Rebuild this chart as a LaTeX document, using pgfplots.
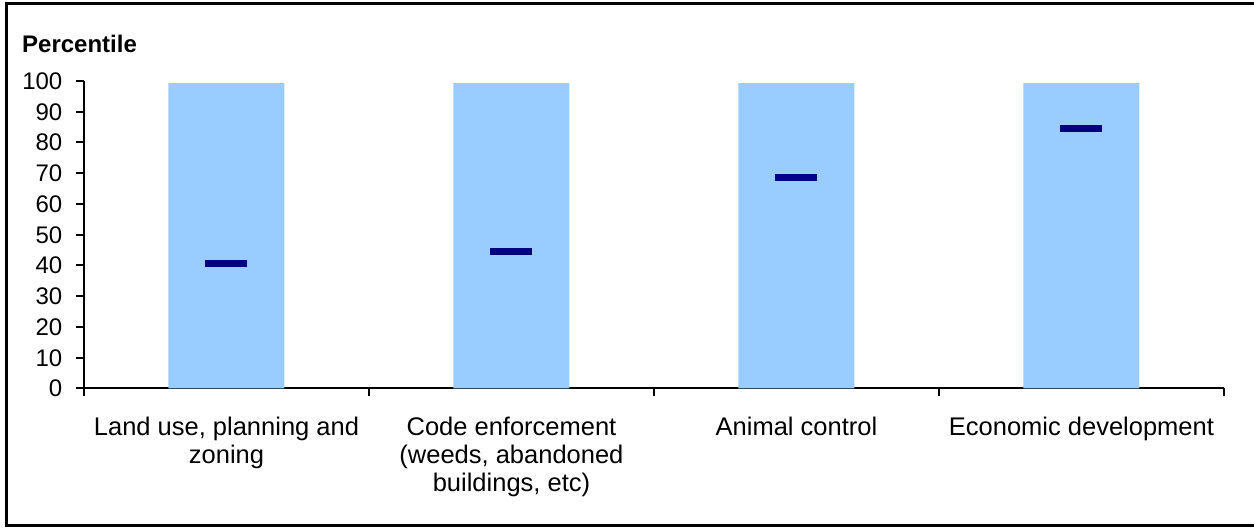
\documentclass[border=0pt]{standalone}
\usepackage{pgfplots}
\pgfplotsset{compat=1.18}
\usepackage{fontspec}
\setmainfont{Liberation Sans}
\definecolor{barblue}{HTML}{99CCFF}
\definecolor{navydash}{HTML}{000080}
\begin{document}
\begin{tikzpicture}
\useasboundingbox (0pt,0pt) rectangle (1254pt,529pt);
\begin{axis}[
  at={(84pt,140.5pt)}, anchor=south west,
  scale only axis, width=1140pt, height=307.5pt,
  xmin=-0.5, xmax=3.5, ymin=0, ymax=100,
  axis x line*=bottom, axis y line*=left,
  axis line style={line width=2pt},
  ytick={0,10,...,100},
  tick align=outside,
  major tick length=7.5pt,
  major tick style={draw=black, line width=2pt},
  y tick label style={font=\fontsize{24}{28}\selectfont, anchor=east, inner sep=0pt, xshift=-14pt},
  /pgf/number format/assume math mode=true,
  xtick={-0.5,0.5,1.5,2.5,3.5},
  x tick label as interval,
  xticklabels={{Land use, planning and\\zoning},{Code enforcement\\(weeds, abandoned\\buildings, etc)},{Animal control},{Economic development},{}},
  x tick label style={font=\fontsize{25.5}{28}\selectfont, align=center, anchor=north, inner sep=0pt, yshift=-21pt},
  clip=false,
]
\addplot[ybar, bar width=116pt, fill=barblue, draw=none] coordinates {(0,99.3)(1,99.3)(2,99.3)(3,99.3)};
\addplot[only marks, mark=-, mark size=21pt, mark options={line width=7pt, draw=navydash}] coordinates {(0,40.8)(1,44.7)(2,68.7)(3,84.4)};
\end{axis}
\node[anchor=base west, inner sep=0pt, font=\fontsize{24}{28}\selectfont\bfseries] at (22pt,476pt) {Percentile};
\begin{scope}
\clip (0pt,0pt) rectangle (1254pt,529pt);
\draw[line width=3pt] (6.5pt,3.5pt) rectangle (1258pt,525.5pt);
\end{scope}
\end{tikzpicture}
\end{document}
